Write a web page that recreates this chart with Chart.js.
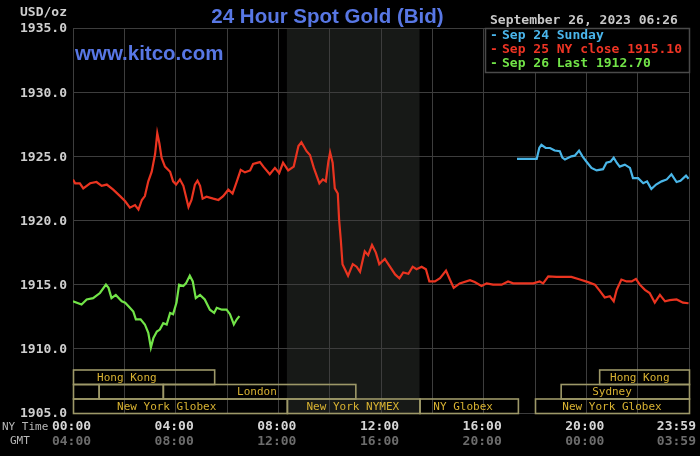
<!DOCTYPE html>
<html>
<head>
<meta charset="utf-8">
<script src="https://cdn.jsdelivr.net/npm/chart.js@4.4.0/dist/chart.umd.min.js"></script>
<style>
html,body{margin:0;padding:0;background:#000;}
#wrap{width:700px;height:456px;}
</style>
</head>
<body>
<div id="wrap"><canvas id="c" width="700" height="456"></canvas></div>
<script>
// ---- data (time in minutes after 00:00 NY time, price in USD/oz) ----
const redTimes = [0,5,16,24,32,40,55,67,79,94,110,122,133,145,153,161,168,176,184,192,197,202,207,215,227,234,241,250,258,266,270,277,285,291,297,303,312,328,340,351,363,373,383,392,402,414,421,437,445,460,472,482,491,503,516,527,534,546,554,563,576,584,591,597,601,607,612,619,622,626,630,643,654,663,671,682,690,699,708,716,729,737,753,763,772,784,794,803,815,825,833,846,858,872,881,890,904,928,939,955,967,982,1002,1017,1029,1076,1091,1099,1111,1130,1165,1185,1204,1220,1232,1243,1255,1264,1271,1282,1294,1306,1316,1325,1337,1348,1360,1372,1384,1395,1411,1426,1439];
const redValues = [1923.2,1922.9,1922.9,1922.5,1922.7,1922.9,1923.0,1922.7,1922.8,1922.4,1921.9,1921.5,1921.0,1921.2,1920.85,1921.6,1921.9,1923.05,1923.8,1925.2,1926.8,1926.0,1924.9,1924.2,1923.8,1923.05,1922.8,1923.2,1922.7,1921.6,1921.05,1921.6,1922.8,1923.1,1922.7,1921.7,1921.85,1921.7,1921.6,1921.9,1922.4,1922.1,1923.05,1923.95,1923.75,1923.9,1924.4,1924.55,1924.2,1923.6,1924.1,1923.7,1924.5,1923.9,1924.2,1925.8,1926.1,1925.4,1925.1,1924.1,1922.9,1923.2,1923.05,1924.6,1925.3,1924.5,1922.5,1922.1,1920.1,1918.5,1916.6,1915.7,1916.6,1916.4,1916.0,1917.6,1917.3,1918.1,1917.5,1916.6,1917.0,1916.6,1915.8,1915.5,1915.95,1915.85,1916.4,1916.2,1916.4,1916.2,1915.25,1915.25,1915.5,1916.1,1915.4,1914.75,1915.1,1915.35,1915.2,1914.9,1915.1,1915.0,1915.0,1915.25,1915.1,1915.1,1915.25,1915.1,1915.65,1915.6,1915.6,1915.4,1915.2,1915.0,1914.5,1914.0,1914.1,1913.7,1914.6,1915.4,1915.25,1915.25,1915.45,1915.0,1914.6,1914.35,1913.6,1914.2,1913.7,1913.8,1913.85,1913.6,1913.55];

const blueTimes = [1038,1084,1090,1095,1105,1115,1126,1138,1144,1150,1165,1173,1183,1191,1200,1212,1224,1239,1247,1257,1264,1271,1278,1290,1302,1309,1321,1333,1342,1352,1363,1376,1388,1399,1411,1420,1433,1439];
const blueValues = [1924.8,1924.8,1925.65,1925.9,1925.65,1925.65,1925.45,1925.4,1924.9,1924.75,1925.0,1925.05,1925.45,1925.0,1924.6,1924.1,1923.9,1924.0,1924.5,1924.6,1924.9,1924.5,1924.2,1924.35,1924.1,1923.3,1923.3,1922.9,1923.05,1922.45,1922.8,1923.05,1923.2,1923.6,1923.0,1923.1,1923.5,1923.25];

const greenTimes = [0,20,32,47,63,77,83,90,100,114,122,133,141,147,158,168,176,182,188,196,203,211,219,227,234,242,248,258,264,273,280,287,297,308,320,330,336,348,359,367,376,383,389];
const greenValues = [1913.7,1913.45,1913.85,1913.95,1914.35,1915.0,1914.75,1913.95,1914.2,1913.7,1913.6,1913.2,1912.9,1912.3,1912.3,1911.9,1911.25,1910.1,1910.85,1911.35,1911.5,1912.0,1911.9,1912.8,1912.7,1913.6,1915.0,1914.9,1915.1,1915.7,1915.25,1913.95,1914.2,1913.85,1913.05,1912.8,1913.2,1913.05,1913.05,1912.7,1911.9,1912.3,1912.55];

const seriesNames = ['Sep 24 Sunday', 'Sep 25 NY close 1915.10', 'Sep 26 Last 1912.70'];
const chartTitle = '24 Hour Spot Gold (Bid)';
const dateText = 'September 26, 2023 06:26';

const yTicks = [1905, 1910, 1915, 1920, 1925, 1930, 1935];
const xTickMinutes = [0, 240, 480, 720, 960, 1200, 1439];
const nyTimeLabels = ['00:00','04:00','08:00','12:00','16:00','20:00','23:59'];
const gmtLabels = ['04:00','08:00','12:00','16:00','20:00','00:00','03:59'];

// trading sessions (minutes), rows from top
const sessionRow0 = [[0,330,'Hong Kong',126],[1230,1440,'Hong Kong',1325]];
const sessionRow1 = [[0,60,'',0],[60,210,'',0],[210,660,'London',430],[1140,1440,'Sydney',1260]];
const sessionRow2 = [[0,500,'New York Globex',219],[500,810,'New York NYMEX',654],[810,1040,'NY Globex',912],[1080,1440,'New York Globex',1260]];
const nymexShade = [500, 810];

const toPts = (t, v) => t.map((x, i) => ({x: x, y: v[i]}));

const MONO = '"DejaVu Sans Mono", monospace';
const SANS = '"Liberation Sans", Arial, sans-serif';

const decor = {
  id: 'decor',
  beforeDraw(chart) {
    const {ctx, chartArea: a, scales: {x}} = chart;
    ctx.save();
    ctx.fillStyle = '#000';
    ctx.fillRect(0, 0, chart.width, chart.height);
    const x0 = x.getPixelForValue(nymexShade[0]);
    const x1 = x.getPixelForValue(nymexShade[1]);
    ctx.fillStyle = '#171917';
    ctx.fillRect(x0, a.top, x1 - x0, a.bottom - a.top);
    ctx.restore();
  },
  afterDraw(chart) {
    const {ctx, chartArea: a, scales: {x, y}} = chart;
    ctx.save();
    // session boxes
    const rows = [sessionRow0, sessionRow1, sessionRow2];
    const rh = 14.5;
    ctx.lineWidth = 1.6;
    ctx.strokeStyle = '#9d9868';
    ctx.font = '11px ' + MONO;
    ctx.textAlign = 'center';
    ctx.textBaseline = 'middle';
    rows.forEach((row, ri) => {
      const top = a.bottom - rh * (3 - ri);
      row.forEach(s => {
        const sx = x.getPixelForValue(s[0]);
        const ex = x.getPixelForValue(s[1]);
        ctx.strokeRect(sx + 0.5, top + 0.5, ex - sx, rh);
        if (s[2]) {
          ctx.fillStyle = '#d8b232';
          ctx.fillText(s[2], x.getPixelForValue(s[3]), top + rh / 2 + 1);
        }
      });
    });
    // y tick labels
    ctx.font = 'bold 13px ' + MONO;
    ctx.fillStyle = '#cfcfcf';
    ctx.textAlign = 'right';
    ctx.textBaseline = 'middle';
    yTicks.forEach(v => ctx.fillText(v.toFixed(1), 67, y.getPixelForValue(v) + 1));
    ctx.textAlign = 'left';
    ctx.fillText('USD/oz', 20, 13);
    // x tick labels
    ctx.textAlign = 'center';
    xTickMinutes.forEach((m, i) => {
      let px = x.getPixelForValue(m) - 1.5;
      const w = ctx.measureText(nyTimeLabels[i]).width;
      px = Math.min(px, chart.width - 4 - w / 2);
      ctx.fillStyle = '#d6d6d6';
      ctx.fillText(nyTimeLabels[i], px, 427);
      ctx.fillStyle = '#6c6c6c';
      ctx.fillText(gmtLabels[i], px, 442);
    });
    ctx.font = '11px ' + MONO;
    ctx.fillStyle = '#b8b8b8';
    ctx.textAlign = 'left';
    ctx.fillText('NY Time', 2, 427);
    ctx.fillText('GMT', 10, 441);
    // title and site
    ctx.font = 'bold 20.5px ' + SANS;
    ctx.fillStyle = '#5877e4';
    ctx.textAlign = 'center';
    ctx.textBaseline = 'alphabetic';
    ctx.fillText(chartTitle, 327.5, 23);
    ctx.textAlign = 'left';
    ctx.fillText('www.kitco.com', 75, 60);
    // date
    ctx.font = 'bold 13px ' + MONO;
    ctx.fillStyle = '#c8c8c8';
    ctx.textBaseline = 'middle';
    ctx.fillText(dateText, 490, 21);
    // legend box
    ctx.fillStyle = '#000';
    ctx.fillRect(485, 29, 205, 43);
    ctx.strokeStyle = '#4a4a4a';
    ctx.lineWidth = 1.5;
    ctx.strokeRect(485.5, 28.5, 204, 44);
    const ly = [36, 50, 64];
    chart.data.datasets.forEach((d, i) => {
      ctx.fillStyle = d.legendColor;
      ctx.fillText('-', 490, ly[i]);
      ctx.fillText(d.label, 502, ly[i]);
    });
    ctx.restore();
  }
};

new Chart(document.getElementById('c'), {
  type: 'line',
  data: {
    datasets: [
      {label: seriesNames[0], data: toPts(blueTimes, blueValues), borderColor: '#4ab6e8', legendColor: '#4ab6ec'},
      {label: seriesNames[1], data: toPts(redTimes, redValues), borderColor: '#ea3420', legendColor: '#ee3424'},
      {label: seriesNames[2], data: toPts(greenTimes, greenValues), borderColor: '#72e448', legendColor: '#72e448'}
    ].map(d => Object.assign(d, {borderWidth: 2.2, pointRadius: 0, tension: 0, fill: false}))
  },
  options: {
    responsive: false,
    animation: false,
    devicePixelRatio: 1,
    layout: {padding: {left: 73, right: 11, top: 28, bottom: 43}},
    plugins: {legend: {display: false}, tooltip: {enabled: false}, title: {display: false}},
    scales: {
      x: {
        type: 'linear', min: 0, max: 1440,
        ticks: {display: false, stepSize: 120},
        grid: {color: '#3d3d3d', lineWidth: 1, drawTicks: false},
        border: {display: false}
      },
      y: {
        type: 'linear', min: 1905, max: 1935,
        ticks: {display: false, stepSize: 5},
        grid: {color: '#3d3d3d', lineWidth: 1, drawTicks: false},
        border: {display: false}
      }
    }
  },
  plugins: [decor]
});
</script>
</body>
</html>
